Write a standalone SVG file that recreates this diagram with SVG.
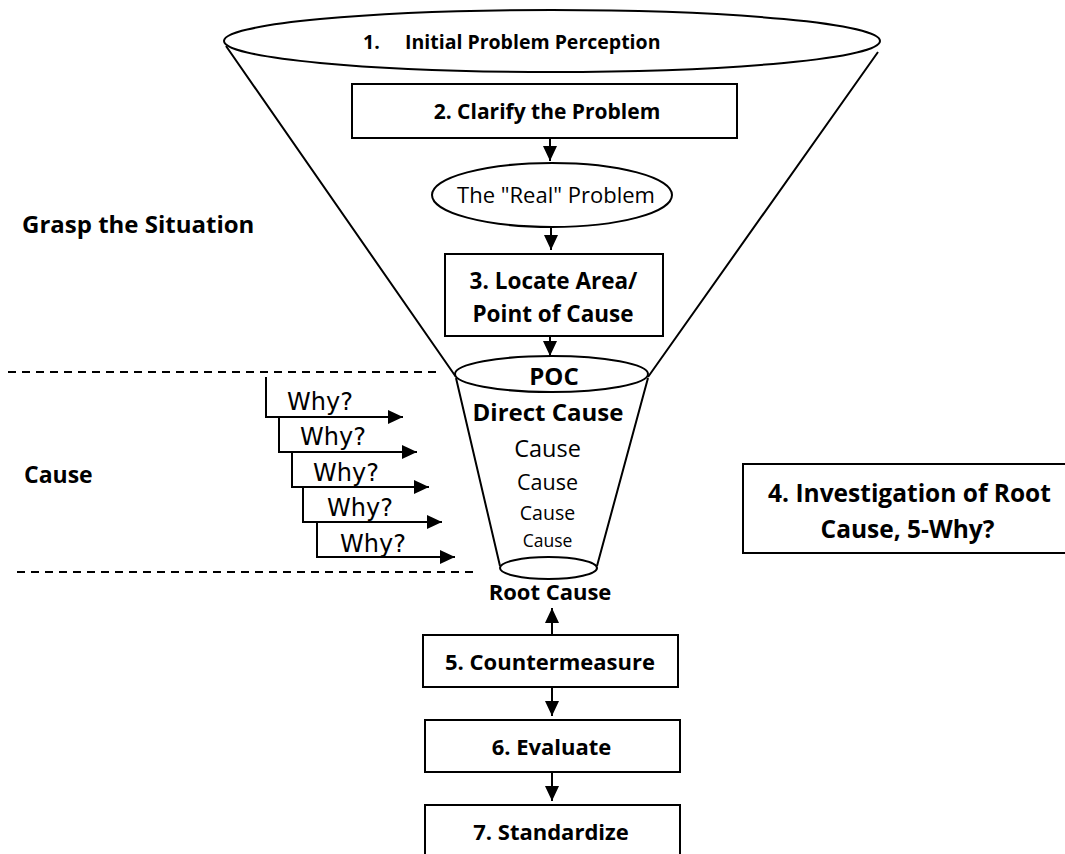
<svg xmlns="http://www.w3.org/2000/svg" width="1065" height="854" viewBox="0 0 1065 854">
<defs>
<style>
.s{fill:none;stroke:#000;stroke-width:2}
.b{fill:#fff;stroke:#000;stroke-width:2}
.d{fill:none;stroke:#000;stroke-width:2;stroke-dasharray:8 6}
.t{font-family:"Open Sans","Liberation Sans",sans-serif;font-weight:bold;fill:#000;text-anchor:middle}
.n{font-family:"Open Sans","Liberation Sans",sans-serif;fill:#000;text-anchor:middle}
.l{text-anchor:start}
.w{font-family:"DejaVu Sans",sans-serif;fill:#000;font-size:24px}
</style>
<marker id="ah" markerUnits="userSpaceOnUse" markerWidth="16" markerHeight="16" viewBox="0 0 16 16" refX="15" refY="8" orient="auto"><path d="M0,1 L15,8 L0,15 Z" fill="#000"/></marker>
</defs>
<rect width="1065" height="854" fill="#fff"/>
<g id="funnel">
<path class="s" d="M226,46 L456,377 M878,52 L648,377 M456,378 L500,566 M648,378 L597,566"/>
</g>
<g id="n1"><ellipse class="b" cx="552" cy="41" rx="328" ry="31"/><text class="t l" x="363" y="49" font-size="19.5">1.</text><text class="t l" x="405" y="49" font-size="19.5">Initial Problem Perception</text></g>
<g id="n2"><rect class="b" x="352" y="84" width="385" height="54"/><text class="t" x="547" y="119" font-size="21">2. Clarify the Problem</text></g>
<g id="n_real"><ellipse class="b" cx="552" cy="195" rx="120" ry="32"/><text class="n" x="556" y="203" font-size="22">The "Real" Problem</text></g>
<g id="n3"><rect class="b" x="445" y="254" width="218" height="82"/><text class="t" x="553.5" y="289" font-size="22.5">3. Locate Area/</text><text class="t" x="553" y="322" font-size="22.5">Point of Cause</text></g>
<g id="n_poc"><ellipse class="b" cx="551.5" cy="374" rx="96.5" ry="18"/><text class="t" x="554" y="385" font-size="24">POC</text></g>
<g id="n_causes">
<text class="t" x="548" y="421" font-size="24">Direct Cause</text>
<text class="n" x="547.5" y="457" font-size="23.5">Cause</text>
<text class="n" x="547.5" y="490" font-size="21.5">Cause</text>
<text class="n" x="547.5" y="520" font-size="19.5">Cause</text>
<text class="n" x="547.5" y="547" font-size="17.5">Cause</text>
</g>
<g id="n_rootell"><ellipse class="b" cx="548.5" cy="568" rx="48.5" ry="11"/></g>
<g id="n_root"><text class="t" x="550" y="600" font-size="22">Root Cause</text></g>
<g id="n4"><rect class="b" x="743" y="464" width="330" height="89"/><text class="t" x="909.5" y="502" font-size="24.5">4. Investigation of Root</text><text class="t" x="907.5" y="538" font-size="24.5">Cause, 5-Why?</text></g>
<g id="n5"><rect class="b" x="423" y="635" width="255" height="52"/><text class="t" x="550" y="670" font-size="22">5. Countermeasure</text></g>
<g id="n6"><rect class="b" x="425" y="720" width="255" height="52"/><text class="t" x="551.5" y="755" font-size="22">6. Evaluate</text></g>
<g id="n7"><rect class="b" x="425" y="805" width="255" height="60"/><text class="t" x="551" y="840" font-size="22">7. Standardize</text></g>
<g id="labels">
<text class="t l" x="22" y="233" font-size="24">Grasp the Situation</text>
<text class="t l" x="24" y="483" font-size="23">Cause</text>
</g>
<g id="dashes">
<path class="d" d="M8,372 L440,372"/>
<path class="d" d="M17,572 L475,572"/>
</g>
<g id="connectors">
<path class="s" d="M550,138 L550,161" marker-end="url(#ah)"/>
<path class="s" d="M551,227 L551,250" marker-end="url(#ah)"/>
<path class="s" d="M550,336 L550,356" marker-end="url(#ah)"/>
<path class="s" d="M552,635 L552,608" marker-end="url(#ah)"/>
<path class="s" d="M552,687 L552,716" marker-end="url(#ah)"/>
<path class="s" d="M552,772 L552,801" marker-end="url(#ah)"/>
<path class="s" d="M266,377 L266,417 L403,417" marker-end="url(#ah)"/>
<path class="s" d="M279,417 L279,452 L417,452" marker-end="url(#ah)"/>
<path class="s" d="M292,452 L292,487 L429,487" marker-end="url(#ah)"/>
<path class="s" d="M303,487 L303,522 L442,522" marker-end="url(#ah)"/>
<path class="s" d="M317,522 L317,557 L455,557" marker-end="url(#ah)"/>
</g>
<g id="whys">
<text class="w" x="287" y="410">Why?</text>
<text class="w" x="300" y="445">Why?</text>
<text class="w" x="313" y="481">Why?</text>
<text class="w" x="327" y="516">Why?</text>
<text class="w" x="340" y="552">Why?</text>
</g>
</svg>
